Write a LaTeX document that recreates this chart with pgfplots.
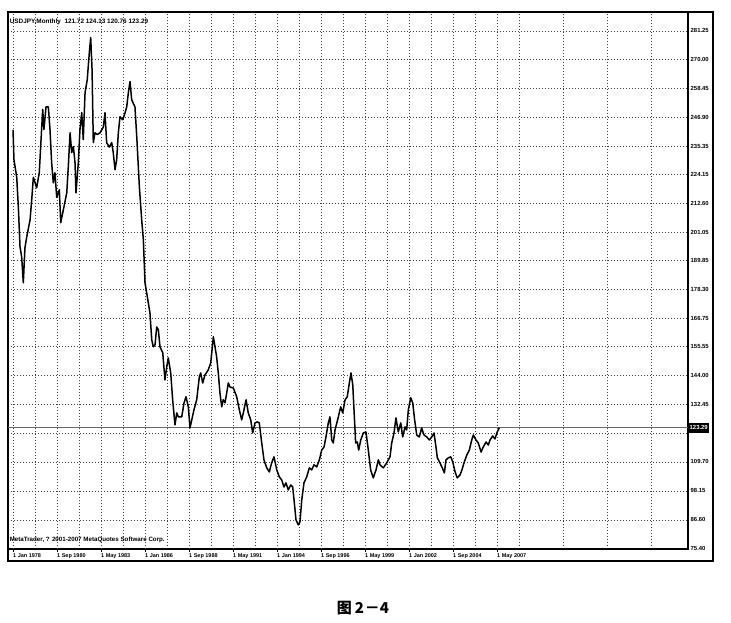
\documentclass[border=0pt]{standalone}
\usepackage{fontspec}
\setmainfont{Liberation Sans}
\newfontfamily\cjk{Noto Sans CJK SC}
\usepackage{pgfplots}
\pgfplotsset{compat=1.18}
\begin{document}
\begin{tikzpicture}[x=1pt,y=1pt]
\useasboundingbox (0,0) rectangle (731,622);
% outer frame
\draw[line width=1.3pt] (8,61) rectangle (713,610);
\begin{axis}[
  at={(8pt,73pt)}, anchor=south west,
  scale only axis, width=680pt, height=536.5pt,
  xmin=-3.64, xmax=490.9, ymin=75.0, ymax=288.6,
  axis line style={line width=1.1pt},
  /pgf/number format/assume math mode=true,
  xtick={16,48,...,480}, xticklabels={},
  extra x ticks={0,32,...,352},
  extra x tick labels={1 Jan 1978,1 Sep 1980,1 May 1983,1 Jan 1986,1 Sep 1988,1 May 1991,1 Jan 1994,1 Sep 1996,1 May 1999,1 Jan 2002,1 Sep 2004,1 May 2007},
  extra x tick style={major tick length=3pt, tick align=outside, tick style={black, line width=0.9pt}},
  major tick length=0pt,
  xtick pos=bottom,
  xticklabel style={font=\fontsize{5.5}{6}\selectfont\bfseries, anchor=north west, inner sep=1pt, xshift=-1pt},
  ytick={75.40,86.60,98.15,109.70,121.20,132.45,144.00,155.55,166.75,178.30,189.85,201.05,212.60,224.15,235.35,246.90,258.45,270.00,281.25},
  yticklabels={75.40,86.60,98.15,109.70,,132.45,144.00,155.55,166.75,178.30,189.85,201.05,212.60,224.15,235.35,246.90,258.45,270.00,281.25},
  ytick pos=right, yticklabel pos=right,
  yticklabel style={font=\fontsize{5.9}{6}\selectfont\bfseries, anchor=west, inner sep=1pt, xshift=1.5pt},
  ytick style={black, line width=0.7pt},
  grid=major,
  major grid style={black!75, line width=0.6pt, dash pattern=on 1pt off 2pt},
  clip=true,
]
% last price line
\addplot[black!60, line width=0.8pt] coordinates {(-3.64,123.29) (490.9,123.29)};
\addplot[black, line width=1.5pt, line join=round] coordinates {
(0,241.9) (0.7,230) (2.7,223) (3.9,211) (5.1,195.3) (6.3,191.3) (7.5,181) (8.7,195) (10.0,199.3)
(12.4,206) (13.6,214) (14.8,223) (17.2,218.8) (19.1,224.8) (20.1,235) (21.6,250) (22.5,242)
(24.0,251) (25.7,251) (26.9,242) (28.1,228.8) (29.3,220.8) (30.5,224.8) (31.8,215) (33.7,218)
(34.7,204.9) (36.6,210) (39.1,216.8) (40.2,227) (41.5,240.7) (42.7,232.8) (43.9,235.2) (45.1,228.8)
(45.8,216.8) (47.5,228.8) (48.7,242) (50.0,248.7) (51.1,238) (52.4,256.7) (54.0,261.9) (55.5,272.6)
(56.5,278.6) (57.5,265.8) (58.4,236.8) (59.6,240.7) (61.3,240) (63.3,240.7) (65.7,243) (66.9,248.7)
(68.1,236.8) (70.0,235) (71.8,236.8) (72.9,232.8) (74.2,226) (75.4,230) (76.6,240.7) (77.8,247.1)
(79.8,245.9) (81.5,248.7) (82.7,251) (83.9,256.7) (85.1,261.1) (86.3,253.9) (88.7,251) (90.0,239.1)
(91.9,219.2) (93.6,206) (94.8,198.1) (96.0,181) (98.4,173) (99.6,169) (100.9,158.3) (102.0,155.5)
(103.3,156.3) (104.5,163.4) (105.7,162.3) (106.9,155.5) (108.9,153.1) (110.5,142.3) (111.8,147.5)
(112.9,151.1) (114.7,145.1) (116.1,134.4) (117.8,124.4) (119.1,129.2) (120.2,127.6) (122.7,127.6)
(124.4,133.2) (125.8,135.6) (127.5,131.6) (128.7,123.2) (130.0,126.4) (131.6,130.4) (133.6,134.4)
(135.5,143.5) (136.5,145.1) (138.0,141.1) (139.6,144.3) (142.0,146.3) (143.8,149.1) (145.7,159.5)
(146.9,155.5) (148.1,151.5) (149.3,145.1) (150.5,137.1) (151.8,131.6) (152.9,134.4) (154.2,133.2)
(155.4,137.1) (156.6,141.1) (157.8,139.5) (160.2,139.1) (162.7,135.6) (164.6,130.4) (166.3,126.4)
(167.5,129.2) (169.5,134.4) (171.1,129.2) (172.9,126.4) (174.3,121.2) (176.0,125.2) (177.7,125.6)
(179.1,125.2) (180.9,117.2) (182.5,110.5) (184.5,107.3) (186.4,105.7) (188.1,109.3) (189.8,111.7)
(191.8,106.5) (193.7,103.7) (195.4,102.5) (197.1,99.7) (198.5,101.3) (200.2,98.5) (202.0,100.5)
(203.4,99.7) (204.4,94.5) (205.8,86.6) (207.5,84.6) (208.7,85.8) (210.0,94.5) (211.6,101.3)
(213.6,103.7) (215.5,107.3) (217.2,106.5) (218.9,108.5) (220.9,107.7) (222.8,110.5) (224.5,114.4)
(226.2,115.6) (227.6,119.6) (229.3,125.2) (230.5,127.6) (231.8,118.4) (232.9,117.2) (234.2,122.4)
(236.6,127.6) (238.3,131.6) (239.8,129.2) (241.5,134.4) (243.1,135.6) (244.6,141.1) (245.8,145.1)
(247.1,140.3) (248.0,130.4) (249.2,117.2) (250.4,117.6) (251.4,114.4) (252.9,118.4) (254.8,121.2)
(256.7,121.6) (258.4,114.4) (260.1,106.5) (262.0,103.3) (264.0,106.5) (265.7,110.5) (266.9,108.5)
(269.3,107.3) (271.8,109.3) (274.2,111.7) (275.4,117.2) (277.1,121.2) (278.5,127.2) (280.2,121.6)
(282.0,125.2) (283.4,119.6) (285.1,123.6) (286.3,122.4) (287.5,130.4) (289.2,135.2) (290.7,133.2)
(292.1,126.4) (293.6,120.4) (295.5,119.6) (297.2,123.2) (298.9,120.4) (300.9,119.6) (302.8,118.4)
(304.5,119.6) (306.2,121.2) (307.6,115.6) (308.6,111.3) (310.5,109.3) (312.2,107.3) (313.7,105.3)
(314.9,110.5) (316.6,111.3) (318.3,111.7) (319.8,109.7) (321.5,105.7) (323.1,103.3) (325.1,104.5)
(326.5,106.5) (328.0,109.3) (330.0,112.4) (331.9,114.4) (333.6,118.4) (334.8,120.4) (336.7,118.4)
(338.4,117.2) (340.4,113.6) (342.0,115.6) (344.0,117.6) (345.7,116.4) (346.9,118.4) (348.9,120)
(350.5,118.8) (352.2,121.6) (353.7,123.29)
};
\node[anchor=west, inner sep=0pt, font=\fontsize{6.4}{7}\selectfont\bfseries] at (axis cs:-2.5,284.8) {USDJPY,Monthly\ \ 121.72 124.13 120.76 123.29};
\node[anchor=west, inner sep=0pt, font=\fontsize{6.2}{7}\selectfont\bfseries] at (axis cs:-2.5,78.6) {MetaTrader, ? 2001-2007 MetaQuotes Software Corp.};
\end{axis}
% current price box
\node[fill=black, text=white, anchor=west, inner sep=1pt, minimum height=10pt, font=\fontsize{5.9}{6}\selectfont\bfseries] at (688.5,194.3) {123.29};
% caption
\node[font=\fontsize{15}{17}\selectfont\cjk\bfseries] at (363,14) {图\hspace{3pt}2\hspace{1pt}－4};
\end{tikzpicture}
\end{document}
